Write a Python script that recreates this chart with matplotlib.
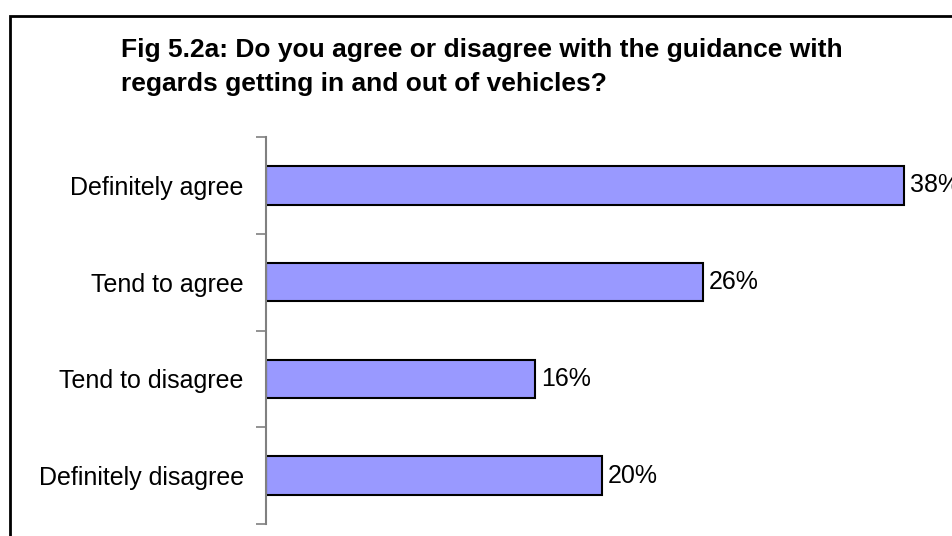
import matplotlib
matplotlib.use('Agg')
import matplotlib.pyplot as plt
from matplotlib.patches import Rectangle

# Survey responses.
categories = ['Definitely agree', 'Tend to agree', 'Tend to disagree', 'Definitely disagree']
percent = [38, 26, 16, 20]
title = ('Fig 5.2a: Do you agree or disagree with the guidance with\n'
         'regards getting in and out of vehicles?')

plt.rcParams['font.family'] = ['Liberation Sans', 'DejaVu Sans']

fig = plt.figure(figsize=(9.52, 5.36), dpi=100)

# Chart frame (open at right and bottom).
fig.add_artist(Rectangle((10 / 952, -0.1), 1.2, 1.1 - 16 / 536,
                         transform=fig.transFigure, fill=False,
                         edgecolor='black', linewidth=2))

fig.text(121 / 952, 1 - 67 / 536, title, fontsize=19, fontweight='bold',
         ha='left', va='center', linespacing=1.52)

ax = fig.add_axes([266 / 952, 12 / 536, 672 / 952, 387 / 536])
pos = list(range(len(categories)))
bars = ax.barh(pos, percent, height=0.4, color='#9999FF',
               edgecolor='black', linewidth=1.5)

for b, v in zip(bars, percent):
    ax.text(b.get_width() + 0.35, b.get_y() + b.get_height() / 2, f'{v}%',
            va='center', ha='left', fontsize=18, clip_on=False)

ax.set_xlim(0, 40)
ax.set_ylim(len(categories) - 0.5, -0.5)

# Tick marks sit between categories; labels at the bar centres.
ax.set_yticks([i - 0.5 for i in range(len(categories) + 1)])
ax.set_yticklabels([])
ax.set_yticks(pos, minor=True)
ax.set_yticklabels(categories, minor=True, fontsize=18)
ax.tick_params(axis='y', which='major', length=7, color='#808080', width=1.2)
ax.tick_params(axis='y', which='minor', length=0, pad=16)
ax.set_xticks([])

for s in ['top', 'right', 'bottom']:
    ax.spines[s].set_visible(False)
ax.spines['left'].set_color('#808080')
ax.spines['left'].set_linewidth(1.5)

fig.savefig('out.png', dpi=100)
